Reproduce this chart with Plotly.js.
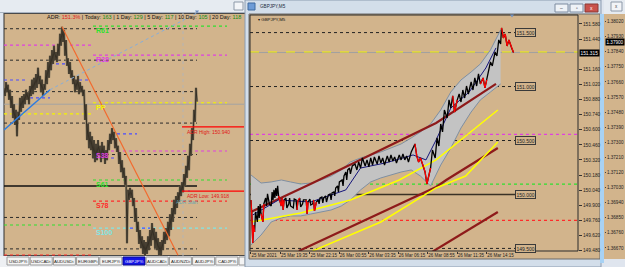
<!DOCTYPE html>
<html><head><meta charset="utf-8">
<script src="https://cdn.plot.ly/plotly-3.0.1.min.js"></script>
<style>html,body{margin:0;padding:0;background:#dfe5ee;overflow:hidden}#chart{width:625px;height:267px}</style>
</head><body><div id="chart"></div>
<script>
// ================= DATA =================
// Left chart (GBPJPY, higher timeframe): bar index -> price (high/low zigzag)
const leftPrice = [151.56,151.43,151.65,151.49,151.61,151.37,151.53,151.24,151.43,151.08,
151.30,150.97,151.21,150.79,151.18,151.05,151.40,151.18,151.43,151.24,
151.46,151.30,151.53,151.37,151.49,151.30,151.59,151.43,151.69,151.46,
151.72,151.53,151.78,151.56,151.88,151.62,151.75,151.49,151.69,151.43,
151.62,151.53,151.84,151.62,151.97,151.72,152.07,151.84,152.16,151.94,
152.23,152.00,152.13,151.97,152.26,152.07,152.42,152.23,152.53,152.29,
152.48,152.07,152.32,151.91,152.03,151.78,151.97,151.72,151.84,151.62,
151.75,151.49,151.69,151.53,151.75,151.46,151.65,151.49,151.59,151.43,
151.53,151.05,151.30,150.73,150.99,150.60,150.86,150.57,150.79,150.44,
150.73,150.38,150.67,150.41,150.73,150.48,150.64,150.38,150.70,150.44,
150.64,150.35,150.57,150.41,150.73,150.57,150.83,150.67,150.92,150.73,
150.86,150.60,150.76,150.54,150.64,150.35,150.54,150.22,150.41,150.13,
150.29,150.02,150.16,149.09,149.94,149.78,149.97,149.81,149.94,149.68,
149.81,149.43,149.65,149.27,149.43,149.08,149.30,149.01,149.20,148.92,
149.14,148.89,149.11,148.92,149.20,148.98,149.30,149.05,149.41,149.14,
149.33,149.01,149.27,148.98,149.17,148.90,149.11,148.89,149.14,148.98,
149.27,149.08,149.33,149.14,149.43,149.20,149.55,149.30,149.65,149.43,
149.78,149.55,149.84,149.65,149.90,149.75,150.00,149.84,150.06,149.90,
150.19,150.00,150.32,150.13,150.48,150.25,150.67,150.48,150.92,150.73,
151.21,151.02,151.56,151.34];

const roundLevels = [152.5,152.0,151.5,151.0,150.5,150.0,149.5,149.0];
const pivotNames  = ['R61','R38','PP','S38','S61','S78','S100'];
const pivotValues = [152.54,152.08,151.32,150.556,150.095,149.76,149.33];
const pivotColors = ['#2fe02f','#e040e0','#f4f400','#e040e0','#2fe02f','#ff2a2a','#7fe6e6'];
const prevPivotValues = [152.24,151.145,149.38,148.903];
const prevPivotColors = ['#e040e0','#f4f400','#2fe02f','#ff2a2a'];
// short pivot markers: [startBar, endBar, price]
const markerSegs = [[0,21,151.685],[26,46,151.40],[46,68,151.94],[69,86,151.685],[89,111,150.445],[113,133,150.83],[126,146,149.33],[178,186,149.92]];
const orangeBars = [58,174], orangePrices = [152.53,148.90];
const blueBars = [0,46], bluePrices = [150.89,151.53];
const skyBars = [46,193], skyPrices = [151.53,152.75];
const adrStartBar = 179;
const adrHigh = 150.940, adrLow = 149.918, lastPrice = 151.315;
const statLabels = ['ADR','Today','1 Day','5 Day','10 Day','20 Day'];
const statValues = ['151.3%','163','129','117','105','118'];
const tabNames = ['USDJPYi','USDCADi','AUDUSDi','EURGBPi','EURJPYi','GBPJPYi','AUDCADi','AUDNZDi','AUDJPYi','CADJPYi'];
const activeTab = 'GBPJPYi';

// Right chart (GBPJPY,M5): bar index -> price
const rightBar = [0,1,2,3,4,5,7,8,9,10,
11,13,14,16,17,18,20,22,23,24,
25,26,27,28,29,30,33,34,35,36,
38,39,41,42,43,46,47,49,50,51,
53,54,56,57,60,61,62,64,65,67,
68,69,71,73,74,75,77,78,79,81,
82,84,86,87,88,90,91,92,94,95,
96,99,100,101,103,104,105,107,108,110,
113,115,117,119,121,124,126,128,130,132,
134,137,139,141,143,145,148,150,152,154,
156,158,161,163,165,167,169,171,174,176,
178,180,182,184,187,189,191,193,195,197,
200,202,204,206,208,210,213,215,217,219,
221,224,226,228,230,232,234,236,239,241,
243,245,247,249,252,254,256,258,260,262,
265,267,269,271,272,274,276,278,280,283,285];
const rightPrice = [149.949,149.810,149.550,149.717,149.652,149.838,149.745,149.893,149.782,149.912,
149.819,149.745,149.912,149.967,149.893,150.005,149.912,149.893,150.023,149.949,
150.042,149.967,150.060,149.986,150.079,149.986,149.893,149.967,149.856,149.949,
149.967,149.875,149.912,149.967,149.893,149.875,149.958,149.949,149.856,149.940,
149.967,149.884,149.912,149.949,149.949,149.819,149.930,149.958,149.902,149.912,
149.949,149.847,149.930,149.949,149.912,149.967,149.977,149.921,149.967,149.986,
149.930,149.995,150.005,149.949,150.014,150.023,149.986,150.060,150.079,150.023,
150.116,150.134,150.079,150.171,150.208,150.134,150.227,150.245,150.190,150.264,
150.282,150.227,150.301,150.245,150.338,150.264,150.320,150.255,150.338,150.273,
150.347,150.282,150.357,150.292,150.338,150.273,150.357,150.301,150.366,150.310,
150.347,150.292,150.366,150.320,150.375,150.320,150.357,150.301,150.394,150.431,
150.468,150.357,150.301,150.338,150.264,150.208,150.097,150.171,150.245,150.412,
150.338,150.524,150.449,150.653,150.579,150.783,150.709,150.876,150.801,150.913,
150.764,150.876,150.931,150.857,150.968,150.894,151.005,150.931,151.042,150.968,
151.080,151.005,151.117,151.024,151.080,150.987,151.061,151.135,151.228,151.191,
151.321,151.283,151.432,151.395,151.543,151.450,151.487,151.376,151.432,151.358,151.315];
// index ranges (into rightBar) of falling bars drawn red
const redRuns = [[0,4],[10,12],[25,29],[38,40],[44,46],[50,52],[110,118],[129,131],[143,146],[154,160]];
// envelope band
const bandBar   = [0,11,22,33,43,54,65,76,87,98,108,119,130,141,152,163,174,184,195,206,217,228,239,249,260,271];
const bandUpper = [150.181,150.106,150.116,150.134,150.116,150.097,150.106,150.134,150.171,150.227,150.301,150.338,150.366,150.394,150.431,150.468,150.524,150.579,150.653,150.783,150.950,151.061,151.135,151.209,151.339,151.524];
const bandLower = [149.532,149.624,149.745,149.782,149.801,149.801,149.819,149.838,149.856,149.893,149.949,150.042,150.116,150.153,150.181,150.208,150.227,150.171,150.079,150.273,150.431,150.616,150.764,150.876,150.950,151.024];
const maBlueBar = [2,30,65,103,119,146,176,190,201,217,237,255,266];
const maBlue    = [149.810,149.949,149.930,150.042,150.245,150.292,150.366,150.320,150.505,150.801,150.950,151.172,151.358];
const maroonUpBar = [0,67,201,266],            maroonUp = [149.838,150.106,150.662,151.024];
const yellowABar  = [0,54,108,161,201,239,268], yellowA = [149.745,149.828,149.949,150.134,150.320,150.579,150.783];
const yellowBBar  = [67,141,201,233,268],       yellowB = [149.476,149.745,150.060,150.171,150.486];
const maroonLoBar = [52,201,212,268],           maroonLo = [149.476,150.069,150.134,150.431];
const maroonLowBar = [184,268],                 maroonLow = [149.402,149.838];
const rightRound = [151.5,151.0,150.5,150.0,149.5];
const rightRoundLabels = ['151.500','151.000','150.500','150.000','149.500'];
const rightPivots = [150.556,150.095,149.76];
const rightPivotColors = ['#e040e0','#2fe02f','#ff2a2a'];
const timeTickBars = [0,32,64,96,128,160,192,224,256];
const timeTickLabels = ['25 Mar 2021','25 Mar 19:35','25 Mar 22:15','26 Mar 00:55','26 Mar 03:35','26 Mar 06:15','26 Mar 08:55','26 Mar 11:35','26 Mar 14:15'];
// 151.300 sits under the last-price box and is not shown
const priceTicks = [151.58,151.44,151.16,151.02,150.88,150.74,150.60,150.46,150.32,150.18,150.04,149.90,149.76,149.62,149.48];
// neighbouring window's price scale
const otherTicks = [1.38020,1.37930,1.37840,1.37750,1.37660,1.37570,1.37480,1.37390,1.37300,1.37210,1.37120,1.37030,1.36940,1.36850,1.36760,1.36670];
const otherLast = 1.37900;

// ================= LAYOUT HELPERS =================
const W=625,H=267, TAN='#D2B48C', FONT='Liberation Sans, Arial, sans-serif';
const fx = v => v/W, fy = v => 1 - v/H;
const shapes = [], ann = [];
function rect(x0,y0,x1,y1,fill,line,layer){
  shapes.push({type:'rect',xref:'paper',yref:'paper',x0:fx(x0),x1:fx(x1),y0:fy(y1),y1:fy(y0),
    fillcolor:fill,line:{color:line||'rgba(0,0,0,0)',width:line?1:0},layer:layer||'below'});
}
function pline(x0,y0,x1,y1,color,w,layer){
  shapes.push({type:'line',xref:'paper',yref:'paper',x0:fx(x0),x1:fx(x1),y0:fy(y0),y1:fy(y1),line:{color:color,width:w||1},layer:layer||'below'});
}
function tri(cx,cy,color){
  shapes.push({type:'path',xref:'paper',yref:'paper',layer:'above',fillcolor:color,line:{width:0},
    path:'M '+fx(cx-2)+' '+fy(cy-1.5)+' L '+fx(cx+2)+' '+fy(cy-1.5)+' L '+fx(cx)+' '+fy(cy+1.5)+' Z'});
}
function ptext(x,y,text,size,color,opts){
  ann.push(Object.assign({xref:'paper',yref:'paper',x:fx(x),y:fy(y),text:text,showarrow:false,
    xanchor:'left',yanchor:'middle',font:{family:FONT,size:size,color:color}},opts||{}));
}

// ---- window chrome ----
rect(0,0,245,13,'#e6ebf1');
pline(0,12.5,245,12.5,'#a9b4c2');
rect(234,2,243,10,'#f3f5f8','#8d99a8');
rect(4,13,245,256,TAN);
pline(4,13,4,256,'#2e2e2e');
pline(4,13.5,245,13.5,'#4a4a4a');
pline(4,255.5,245,255.5,'#4a4a4a');
rect(0,256,245,267,'#eef0f3');
// tabs
tabNames.forEach((t,i)=>{
  const x0 = 7 + i*23.2, x1 = x0 + 22;
  const act = t===activeTab;
  rect(x0,257,x1,265,act?'#1414e6':'#f4f4f4',act?'#0a0a90':'#9a9a9a');
  ptext((x0+x1)/2,261,t,4.4,act?'#ffffff':'#202020',{xanchor:'center'});
});
rect(239,257,245,265,'#f4f4f4','#9a9a9a');
// right window frame
rect(245,0,601,267,'#d3deea','#8c9cb0');
rect(248,3,255,10,'#6d9bd6','#3f6aa0');
ptext(258,7,'GBPJPY,M5',4.6,'#1c2a3a');
rect(555,4,568,12,'#eef2f7','#7d8ba0');
rect(570,4,583,12,'#eef2f7','#7d8ba0');
rect(585,4,598,12,'#c9514a','#8a3a34');
ptext(561.5,8,'–',5,'#333',{xanchor:'center'});
ptext(576.5,8,'▫',5,'#333',{xanchor:'center'});
ptext(591.5,8,'x',5,'#ffffff',{xanchor:'center'});
rect(249,14,600,259,TAN,'#6a6a6a');
rect(600,14,604,263,'#a8d2f4');
rect(604,0,625,14,'#e6ebf1');
rect(611,2,622,11,'#f2f4f7','#8d99a8');
ptext(616.5,6.5,'x',4.5,'#444',{xanchor:'center'});
rect(604,14,625,259,TAN);
// right plot border
shapes.push({type:'rect',xref:'paper',yref:'paper',x0:fx(250),x1:fx(578),y0:fy(251),y1:fy(15),line:{color:'#2b2b2b',width:1},fillcolor:'rgba(0,0,0,0)',layer:'above'});
tri(197,12,'#7090c0');
tri(512,16,'#7090c0');

// ---- left chart lines ----
roundLevels.forEach(v=>{
  shapes.push({type:'line',xref:'x',yref:'y',x0:0,x1:193,y0:v,y1:v,layer:'below',
    line:{color:v===150.0?'#111':'#2a2a2a',width:v===150.0?1.3:1,dash:v===150.0?'solid':'dot'}});
});
pivotValues.forEach((v,i)=>{
  shapes.push({type:'line',xref:'x',yref:'y',x0:89,x1:223,y0:v,y1:v,layer:'below',line:{color:pivotColors[i],width:1.2,dash:'dot'}});
  ann.push({xref:'x',yref:'y',x:89.5,y:v,text:'<b>'+pivotNames[i]+'</b>',showarrow:false,xanchor:'left',yanchor:'top',yshift:1,
    font:{family:FONT,size:7,color:pivotColors[i]}});
});
prevPivotValues.forEach((v,i)=>{
  shapes.push({type:'line',xref:'x',yref:'y',x0:0,x1:88,y0:v,y1:v,layer:'below',line:{color:prevPivotColors[i],width:1.2,dash:'dot'}});
});
shapes.push({type:'line',xref:'x',yref:'y',x0:0,x1:240,y0:151.30,y1:151.30,layer:'below',line:{color:'#a4a4a4',width:1}});
shapes.push({type:'line',xref:'x',yref:'y domain',x0:adrStartBar,x1:adrStartBar,y0:0,y1:1,layer:'below',line:{color:'#b4b4b4',width:1,dash:'dot'}});
[adrHigh,adrLow].forEach(v=>shapes.push({type:'line',xref:'x',yref:'y',x0:178,x1:241,y0:v,y1:v,layer:'above',line:{color:'#ff0000',width:1.4}}));
ann.push({xref:'x',yref:'y',x:181,y:adrHigh,text:'ADR High: '+adrHigh.toFixed(3),showarrow:false,xanchor:'left',yanchor:'top',yshift:0,font:{family:FONT,size:5,color:'#e01818'}});
ann.push({xref:'x',yref:'y',x:181,y:adrLow,text:'ADR Low: '+adrLow.toFixed(3),showarrow:false,xanchor:'left',yanchor:'top',yshift:0.5,font:{family:FONT,size:5,color:'#e01818'}});
ann.push({xref:'x',yref:'y',x:170,y:149.73,text:'ADR Start',showarrow:false,xanchor:'left',yanchor:'middle',font:{family:FONT,size:4.8,color:'#6aa6b0'}});
// stats line
let statHtml = statLabels.map((l,i)=>l+': <span style="color:'+(i===0?'#e02020':'#128a12')+'">'+statValues[i]+'</span>').join(' | ');
ptext(45,16.5,statHtml,5.5,'#111');

// ---- right chart lines ----
shapes.push({type:'line',xref:'x2 domain',yref:'y2',x0:0,x1:1,y0:lastPrice,y1:lastPrice,layer:'below',line:{color:'#a0a0a0',width:1}});
shapes.push({type:'line',xref:'x2 domain',yref:'y2',x0:0,x1:1,y0:151.32,y1:151.32,layer:'below',line:{color:'#f4f400',width:1,dash:'dash'}});
rightPivots.forEach((v,i)=>shapes.push({type:'line',xref:'x2 domain',yref:'y2',x0:0,x1:1,y0:v,y1:v,layer:'below',line:{color:rightPivotColors[i],width:1.2,dash:'dot'}}));
rightRound.forEach((v,i)=>{
  shapes.push({type:'line',xref:'x2',yref:'y2',x0:-1,x1:287,y0:v,y1:v,layer:'below',
    line:{color:v===150.0?'#3a3226':'#222',width:v===150.0?1.4:1,dash:v===150.0?'solid':'dot'}});
  ann.push({xref:'x2',yref:'y2',x:287,y:v,text:rightRoundLabels[i],showarrow:false,xanchor:'left',yanchor:'middle',
    bgcolor:TAN,bordercolor:'#3a3a3a',borderwidth:1,borderpad:0.5,font:{family:FONT,size:5,color:'#222'}});
});
ann.push({xref:'paper',yref:'y2',x:fx(578.5),y:lastPrice,text:lastPrice.toFixed(3),showarrow:false,xanchor:'left',yanchor:'middle',
  bgcolor:'#000',borderpad:0.5,font:{family:FONT,size:4.8,color:'#fff'}});
ann.push({xref:'paper',yref:'y3',x:fx(604.5),y:otherLast,text:otherLast.toFixed(5),showarrow:false,xanchor:'left',yanchor:'middle',
  bgcolor:'#000',borderpad:0.5,font:{family:FONT,size:4.6,color:'#fff'}});
ptext(256,19.5,'▾ GBPJPY,M5',4.4,'#111');

// ================= TRACES =================
const leftBars = leftPrice.map((_,i)=>i);
function segTrace(segs,color,xa,ya,dash,w){
  const x=[],y=[]; segs.forEach(s=>{x.push(s[0],s[1],null);y.push(s[2],s[2],null);});
  return {x:x,y:y,xaxis:xa,yaxis:ya,mode:'lines',line:{color:color,width:w||1,dash:dash},hoverinfo:'skip'};
}
const redX=[],redY=[];
redRuns.forEach(r=>{for(let i=r[0];i<=r[1];i++){redX.push(rightBar[i]);redY.push(rightPrice[i]);} redX.push(null);redY.push(null);});
const L = (x,y,color,w,extra)=>Object.assign({x:x,y:y,xaxis:'x2',yaxis:'y2',mode:'lines',line:{color:color,width:w},hoverinfo:'skip'},extra||{});

const traces = [
  segTrace(markerSegs,'#4a4cff','x','y','dot',1.2),
  {x:leftBars,y:leftPrice,xaxis:'x',yaxis:'y',mode:'lines',line:{color:'#8c7f66',width:2.4},hoverinfo:'skip'},
  {x:leftBars,y:leftPrice,xaxis:'x',yaxis:'y',mode:'lines',line:{color:'#2c271e',width:0.9},hoverinfo:'skip'},
  {x:orangeBars,y:orangePrices,xaxis:'x',yaxis:'y',mode:'lines',line:{color:'#f26a2e',width:1.2},hoverinfo:'skip'},
  {x:blueBars,y:bluePrices,xaxis:'x',yaxis:'y',mode:'lines',line:{color:'#2e7ce0',width:1.4},hoverinfo:'skip'},
  {x:skyBars,y:skyPrices,xaxis:'x',yaxis:'y',mode:'lines',line:{color:'#86aedb',width:1,dash:'dot'},hoverinfo:'skip'},
  // right chart
  L(bandBar,bandUpper,'#7f8fa2',1),
  L(bandBar,bandLower,'#7f8fa2',1,{fill:'tonexty',fillcolor:'#c3c3c3'}),
  L(maroonLowBar,maroonLow,'#8e1a1a',2.2),
  L(maroonLoBar,maroonLo,'#8e1a1a',2.2),
  L(yellowBBar,yellowB,'#ffff00',1.5),
  L(yellowABar,yellowA,'#ffff00',1.5),
  L(maroonUpBar,maroonUp,'#8e1a1a',2.2),
  L(maBlueBar,maBlue,'#14147a',1),
  L(rightBar,rightPrice,'#000000',1.3),
  L(redX,redY,'#ff0000',1.3)
];

const layout = {
  width:W,height:H,margin:{l:0,r:0,t:0,b:0},showlegend:false,
  paper_bgcolor:'#dfe5ee',plot_bgcolor:'rgba(0,0,0,0)',
  xaxis:{domain:[fx(4),fx(244)],range:[0,240],visible:false,fixedrange:true},
  yaxis:{domain:[fy(256),fy(13)],range:[148.887,152.750],visible:false,fixedrange:true},
  xaxis2:{domain:[fx(250),fx(578)],range:[-1,355],anchor:'y2',showgrid:false,zeroline:false,
    tickmode:'array',tickvals:timeTickBars,ticktext:timeTickLabels,ticks:'outside',ticklen:2,tickcolor:'#333',
    tickangle:0,automargin:false,
    ticklabelposition:'outside right',tickfont:{family:FONT,size:4.5,color:'#222'},showline:false},
  yaxis2:{domain:[fy(251),fy(15)],range:[149.476,151.663],anchor:'x2',side:'right',showgrid:false,zeroline:false,
    tickmode:'array',tickvals:priceTicks,tickformat:'.3f',ticks:'outside',ticklen:3,tickcolor:'#333',automargin:false,
    tickfont:{family:FONT,size:4.8,color:'#222'},showline:false},
  xaxis3:{domain:[fx(598),fx(604)],range:[0,1],anchor:'y3',visible:false},
  yaxis3:{domain:[fy(258),fy(15)],range:[1.36610,1.38059],anchor:'x3',side:'right',showgrid:false,zeroline:false,
    tickmode:'array',tickvals:otherTicks,tickformat:'.5f',ticks:'outside',ticklen:1,tickcolor:'#444',automargin:false,
    tickfont:{family:FONT,size:4.6,color:'#222'},showline:false},
  shapes:shapes,annotations:ann
};
Plotly.newPlot('chart',traces,layout,{staticPlot:true,displayModeBar:false});
</script></body></html>
